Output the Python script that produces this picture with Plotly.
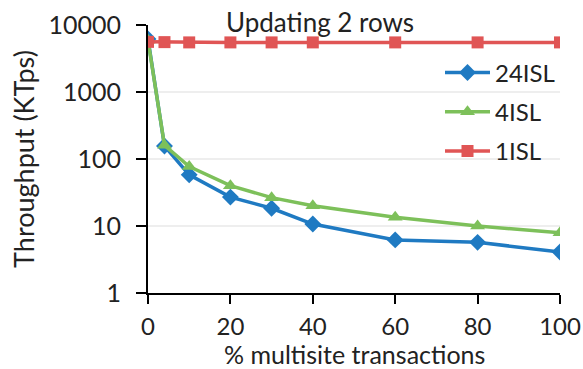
import plotly.graph_objects as go

# % of multisite transactions
pct_multisite = [0, 4, 10, 20, 30, 40, 60, 80, 100]

# Throughput in KTps per isolation configuration
tput_24isl = [6200, 156, 58, 27, 18.4, 10.7, 6.2, 5.7, 4.1]
tput_4isl = [5900, 160, 77, 40, 26.5, 20, 13.5, 10, 7.9]
tput_1isl = [5600, 5550, 5500, 5500, 5500, 5500, 5500, 5500, 5500]

y_tickvals = [1, 10, 100, 1000, 10000]
y_ticktext = ["1", "10", "100", "1000", "10000"]
x_tickvals = [0, 20, 40, 60, 80, 100]

FONT = "Lato"
TEXT = "#222222"

fig = go.Figure()

series = [
    ("24ISL", tput_24isl, "#1F7AC2", "diamond", 13),
    ("4ISL", tput_4isl, "#7DC05A", "triangle-up", 13),
    ("1ISL", tput_1isl, "#E05555", "square", 12),
]
for name, vals, color, symbol, size in series:
    fig.add_trace(go.Scatter(
        x=pct_multisite, y=vals, name=name, mode="lines+markers",
        legendgroup=name,
        line=dict(color=color, width=3.5),
        marker=dict(symbol=symbol, size=size, color=color),
    ))

PLOT_H = 369 - 25 - 76

fig.update_layout(
    width=583, height=369,
    margin=dict(l=148, r=23, t=25, b=76),
    paper_bgcolor="white", plot_bgcolor="white",
    font=dict(family=FONT, size=24, color=TEXT),
    showlegend=True,
    legend=dict(
        x=1.0, y=0.905, xanchor="right", yanchor="top",
        bgcolor="rgba(0,0,0,0)", font=dict(size=24, color=TEXT),
        tracegroupgap=5, itemwidth=45,
    ),
    annotations=[
        dict(
            text="Updating 2 rows", x=(320 - 148) / 412, xref="paper",
            y=1.01, yref="paper", yanchor="middle",
            showarrow=False, font=dict(size=26, color=TEXT),
        ),
        dict(
            text="% multisite transactions", x=0.5, xref="paper",
            y=-(354 - 293) / PLOT_H, yref="paper", yanchor="middle",
            showarrow=False, font=dict(size=25, color=TEXT),
        ),
    ],
)

fig.update_xaxes(
    range=[0, 100], tickvals=x_tickvals, automargin=False,
    showline=True, linecolor="black", linewidth=2,
    ticks="outside", ticklen=9, tickwidth=2, tickcolor="black",
    showgrid=False, zeroline=False,
    tickfont=dict(size=24, color=TEXT),
    ticklabelstandoff=2,
)
fig.update_yaxes(
    type="log", range=[0, 4], tickvals=y_tickvals, ticktext=y_ticktext,
    automargin=False,
    showline=True, linecolor="black", linewidth=2,
    ticks="outside", ticklen=10, tickwidth=2, tickcolor="black",
    showgrid=True, gridcolor="#EEEEEE", gridwidth=2,
    zeroline=False,
    title=dict(text="Throughput (KTps)", font=dict(size=27, color=TEXT), standoff=6),
    tickfont=dict(size=25, color=TEXT),
    ticklabelstandoff=10,
)

fig.write_html("out.html")
